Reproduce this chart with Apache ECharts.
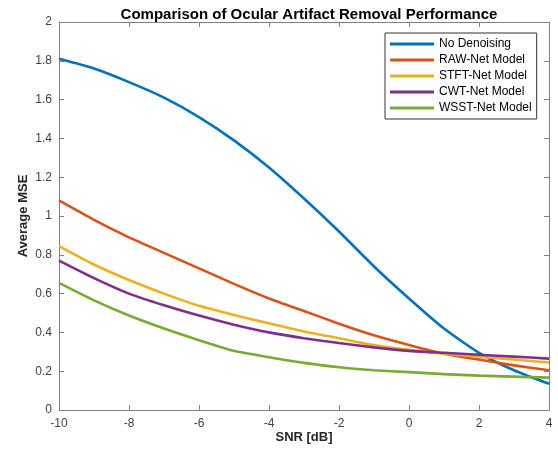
<!DOCTYPE html>
<html>
<head>
<meta charset="utf-8">
<script src="https://cdn.jsdelivr.net/npm/echarts@6/dist/echarts.min.js"></script>
<style>
  html, body { margin: 0; padding: 0; background: #fff; }
  #chart { width: 558px; height: 454px; }
</style>
</head>
<body>
<div id="chart"></div>
<script>
var snr = [-10, -9, -8, -7, -6, -5, -4, -3, -2, -1, 0, 1, 2, 3, 4];
var noDenoising = [1.81, 1.76, 1.69, 1.61, 1.51, 1.39, 1.25, 1.09, 0.92, 0.74, 0.575, 0.42, 0.295, 0.205, 0.135];
var rawNet = [1.08, 0.98, 0.89, 0.81, 0.73, 0.65, 0.575, 0.51, 0.445, 0.385, 0.335, 0.29, 0.26, 0.23, 0.205];
var stftNet = [0.845, 0.75, 0.67, 0.60, 0.537, 0.49, 0.447, 0.405, 0.37, 0.335, 0.31, 0.29, 0.275, 0.26, 0.245];
var cwtNet = [0.77, 0.68, 0.60, 0.54, 0.487, 0.44, 0.40, 0.37, 0.345, 0.323, 0.305, 0.295, 0.285, 0.275, 0.265];
var wsstNet = [0.655, 0.565, 0.487, 0.42, 0.36, 0.305, 0.272, 0.243, 0.22, 0.205, 0.195, 0.185, 0.177, 0.172, 0.167];

var names = ['No Denoising', 'RAW-Net Model', 'STFT-Net Model', 'CWT-Net Model', 'WSST-Net Model'];
var colors = ['#0072BD', '#D95319', '#EDB120', '#7E2F8E', '#77AC30'];
var allData = [noDenoising, rawNet, stftNet, cwtNet, wsstNet];

var chartDom = document.getElementById('chart');
var myChart = echarts.init(chartDom);
var axisColor = '#808080';
var labelColor = '#404040';
var font = 'Liberation Sans, Arial, sans-serif';

function makeSeries(){
  var out = [];
  for (let i = 0; i < names.length; i++) {
    var pts = [];
    for (let j = 0; j < snr.length; j++) {
      pts.push([snr[j], allData[i][j]]);
    }
    out.push({
      name: names[i],
      type: 'line',
      data: pts,
      showSymbol: false,
      smooth: 0.2,
      lineStyle: { width: 2.6, color: colors[i] },
      itemStyle: { color: colors[i] }
    });
  }
  return out;
}

// shared axis look (MATLAB style box with inward ticks)
function boxAxis(extra){
  var base = {
    type: 'value',
    axisLine: { show: true, onZero: false, lineStyle: { color: axisColor } },
    axisTick: { show: true, inside: true, length: 5, lineStyle: { color: axisColor } },
    axisLabel: { show: false },
    splitLine: { show: false }
  };
  return Object.assign(base, extra);
}

var option = {
  animation: false,
  textStyle: { fontFamily: font },
  title: {
    text: 'Comparison of Ocular Artifact Removal Performance',
    left: 304,
    textAlign: 'center',
    top: 2,
    textStyle: { fontSize: 15, fontWeight: 'bold', color: '#000', fontFamily: font }
  },
  legend: {
    orient: 'vertical',
    left: 385,
    top: 33,
    padding: [4, 5, 4, 5],
    itemWidth: 44,
    itemHeight: 3,
    itemGap: 2,
    icon: 'rect',
    borderColor: '#333',
    borderWidth: 1,
    backgroundColor: '#fff',
    textStyle: { fontSize: 12, color: '#000', lineHeight: 14, fontFamily: font },
    data: names
  },
  grid: {
    left: 59,
    right: 9,
    top: 22,
    bottom: 44
  },
  xAxis: [
    boxAxis({
      position: 'bottom',
      min: -10,
      max: 4,
      interval: 2,
      name: 'SNR [dB]',
      nameLocation: 'middle',
      nameGap: 21,
      nameMoveOverlap: false,
      nameTextStyle: { fontSize: 13, fontWeight: 'bold', color: '#262626', fontFamily: font },
      axisLabel: { show: true, fontSize: 12, color: labelColor, margin: 8 }
    }),
    boxAxis({ position: 'top', min: -10, max: 4, interval: 2 })
  ],
  yAxis: [
    boxAxis({
      position: 'left',
      min: 0,
      max: 2,
      interval: 0.2,
      name: 'Average MSE',
      nameLocation: 'middle',
      nameGap: 29,
      nameMoveOverlap: false,
      nameTextStyle: { fontSize: 13, fontWeight: 'bold', color: '#262626', fontFamily: font },
      axisLabel: { show: true, fontSize: 12, color: labelColor, margin: 7 }
    }),
    boxAxis({ position: 'right', min: 0, max: 2, interval: 0.2 })
  ],
  series: makeSeries()
};

option && myChart.setOption(option);
</script>
</body>
</html>
